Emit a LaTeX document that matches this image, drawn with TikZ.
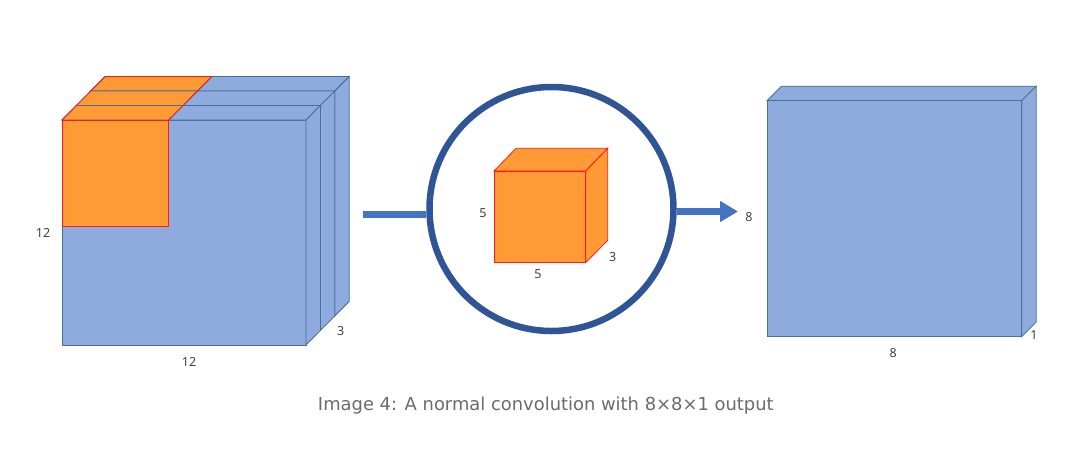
\documentclass[tikz,border=0pt]{standalone}
\usepackage{fontspec}
\setmainfont{Noto Sans}
\newfontfamily\capfont{DejaVu Sans}
\usetikzlibrary{arrows.meta}
\definecolor{bfill}{HTML}{8FAADC}
\definecolor{bedge}{HTML}{41719C}
\definecolor{ofill}{HTML}{FF9A35}
\definecolor{redge}{HTML}{FF1A1A}
\definecolor{ring}{HTML}{2F5597}
\definecolor{arr}{HTML}{4472C4}
\definecolor{captxt}{HTML}{6B6B6B}
\definecolor{lbl}{HTML}{404040}
\tikzset{
  bluebox/.style={fill=bfill,draw=bedge,line width=0.8pt,line join=miter},
  orangebox/.style={fill=ofill,draw=redge,line width=0.8pt},
  orangestrip/.style={fill=ofill,draw=bedge,line width=0.8pt},
  dimlbl/.style={font=\fontsize{12.5}{14}\selectfont,text=lbl,inner sep=0pt},
  thickline/.style={draw=arr,line width=7pt},
}
\begin{document}
\begin{tikzpicture}[x=1pt,y=-1pt]
\useasboundingbox (0,0) rectangle (1069,451);
% ---------- left input volume 12x12x3 ----------
\foreach \k in {2,1,0}{
  \pgfmathsetmacro{\dx}{14.4*\k}
  \pgfmathsetmacro{\dy}{-14.5*\k}
  \begin{scope}[shift={(\dx,\dy)}]
    \draw[bluebox] (62,120) rectangle (306,345);
    \draw[bluebox] (62,120) -- (306,120) -- (320.4,105.5) -- (76.4,105.5) -- cycle;
    \draw[bluebox] (306,120) -- (320.4,105.5) -- (320.4,330.5) -- (306,345) -- cycle;
    \draw[orangestrip] (62,120) -- (168.7,120) -- (183.1,105.5) -- (76.4,105.5) -- cycle;
  \end{scope}
}
\draw[redge,line width=0.8pt,line join=miter] (168.7,120) -- (211.9,76.5) -- (105.2,76.5) -- (62,120);
\draw[orangebox] (62,120) rectangle (168.7,226.7);
\node[dimlbl] (l12a) at (43,233) {12};
\node[dimlbl] (l12b) at (189,361.5) {12};
\node[dimlbl] (l3a) at (340.7,331.5) {3};
% ---------- kernel in circle ----------
\node[circle,draw=ring,line width=6.5pt,minimum size=244pt,inner sep=0pt] (lens) at (551.5,209) {};
\draw[orangebox,line join=miter] (494,171) -- (585.7,171) -- (607.7,148.3) -- (516,148.3) -- cycle;
\draw[orangebox,line join=miter] (585.7,171) -- (607.7,148.3) -- (607.7,240.3) -- (585.7,262.7) -- cycle;
\draw[orangebox] (494,171) rectangle (585.7,262.7);
\node[dimlbl] (k5a) at (483,213) {5};
\node[dimlbl] (k5b) at (538,274) {5};
\node[dimlbl] (k3) at (612.7,257) {3};
% ---------- connectors ----------
\coordinate (inA) at (363.3,214);
\coordinate (outB) at (738,211.5);
\draw[thickline] (inA) -- (inA -| lens.west);
\draw[thickline,-{Triangle[length=18pt,width=20pt]}] (lens.east |- outB) -- (outB);
% ---------- output volume 8x8x1 ----------
\draw[bluebox] (767,100.7) -- (1021.7,100.7) -- (1036.2,86.2) -- (781.5,86.2) -- cycle;
\draw[bluebox] (1021.7,100.7) -- (1036.2,86.2) -- (1036.2,322.2) -- (1021.7,336.7) -- cycle;
\draw[bluebox] (767,100.7) rectangle (1021.7,336.7);
\node[dimlbl] (o8a) at (749,217.3) {8};
\node[dimlbl] (o8b) at (893.3,352.7) {8};
\node[dimlbl] (o1) at (1034,335) {1};
% ---------- caption ----------
\node[font=\capfont\fontsize{17.9}{20}\selectfont,text=captxt,inner sep=0pt] (cap) at (545.8,405.7) {Image 4: A normal convolution with 8×8×1 output};
\end{tikzpicture}
\end{document}
